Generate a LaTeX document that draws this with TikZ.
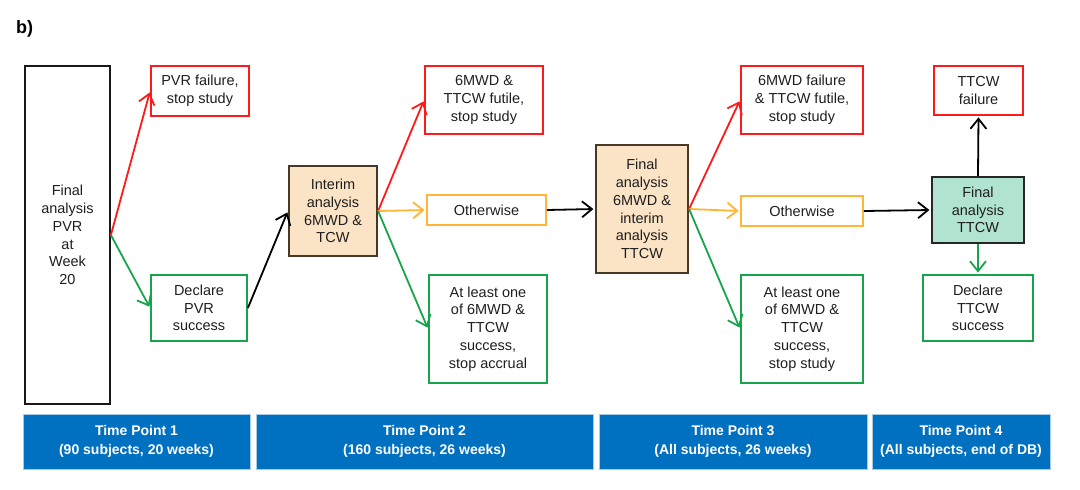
\documentclass[tikz,border=0pt]{standalone}
\usepackage{fontspec}
\setmainfont{Liberation Sans}
\usetikzlibrary{arrows.meta}
\definecolor{cred}{HTML}{FF1A1A}
\definecolor{cgreen}{HTML}{18A44C}
\definecolor{corange}{HTML}{FFB536}
\definecolor{cbeige}{HTML}{FBE4C6}
\definecolor{cbrown}{HTML}{4A3826}
\definecolor{cmint}{HTML}{B0E4D0}
\definecolor{cblue}{HTML}{0070C0}
\definecolor{cblueedge}{HTML}{A9CBEA}
\definecolor{ctext}{HTML}{1E1E1E}
\tikzset{
  box/.style={draw, line width=1.8pt, align=center, inner sep=2pt, text=ctext,
    font=\fontsize{14.5}{17.8}\selectfont},
  redbox/.style={box, draw=cred},
  greenbox/.style={box, draw=cgreen},
  orangebox/.style={box, draw=corange},
  beigebox/.style={box, draw=cbrown, fill=cbeige, line width=2.2pt},
  mintbox/.style={box, draw=black!85, fill=cmint, line width=2.2pt},
  plainbox/.style={box, draw=black!90},
  bar/.style={draw=cblueedge, line width=0.8pt, fill=cblue, text=white, align=center,
    font=\bfseries\fontsize{14}{18.3}\selectfont, minimum height=55pt, inner sep=0pt},
  conn/.style={line width=1.8pt, shorten >=1.5pt,
    -{Straight Barb[length=10pt,width=16pt,line width=1.8pt]}},
}
\begin{document}
\begin{tikzpicture}[x=1pt,y=-1pt]
\useasboundingbox (0,0) rectangle (1080,490);
\node[anchor=base west, font=\bfseries\fontsize{18}{20}\selectfont, inner sep=0pt] (lab) at (16,33) {b)};

% Time point 1
\node[plainbox, minimum width=85pt, minimum height=338pt] (big) at (67.5,235) {Final\\analysis\\PVR\\at\\Week\\20};
\node[redbox, minimum width=98pt, minimum height=50pt] (pvrfail) at (200,91) {PVR failure,\\stop study};
\node[greenbox, minimum width=96pt, minimum height=66pt] (pvrsucc) at (199,308) {Declare\\PVR\\success};

% Time point 2
\node[beigebox, minimum width=88pt, minimum height=90pt] (interim) at (333,211) {Interim\\analysis\\6MWD \&\\TCW};
\node[redbox, minimum width=118pt, minimum height=68pt] (fut1) at (484,100) {6MWD \&\\TTCW futile,\\stop study};
\node[orangebox, minimum width=119pt, minimum height=30pt] (oth1) at (486.5,210) {Otherwise};
\node[greenbox, minimum width=118pt, minimum height=108pt] (succ1) at (488,329) {At least one\\of 6MWD \&\\TTCW\\success,\\stop accrual};

% Time point 3
\node[beigebox, minimum width=92pt, minimum height=128pt] (final3) at (642,209) {Final\\analysis\\6MWD \&\\interim\\analysis\\TTCW};
\node[redbox, minimum width=122pt, minimum height=68pt] (fail3) at (802,100) {6MWD failure\\\& TTCW futile,\\stop study};
\node[orangebox, minimum width=122pt, minimum height=30pt] (oth3) at (802,211) {Otherwise};
\node[greenbox, minimum width=122pt, minimum height=108pt] (succ3) at (802,329) {At least one\\of 6MWD \&\\TTCW\\success,\\stop study};

% Time point 4
\node[mintbox, minimum width=92pt, minimum height=66pt] (ttcw) at (978,210) {Final\\analysis\\TTCW};
\node[redbox, minimum width=89pt, minimum height=49pt] (ttcwfail) at (978.5,90.5) {TTCW\\failure};
\node[greenbox, minimum width=110pt, minimum height=66pt] (ttcwsucc) at (978,308) {Declare\\TTCW\\success};

% connectors
\draw[conn, cred] (big.east) -- (pvrfail.west);
\draw[conn, cgreen] (big.east) -- (pvrsucc.west);
\draw[conn, black] (pvrsucc.east) -- (interim.west);
\draw[conn, cred] (interim.east) -- (fut1.west);
\draw[conn, corange] (interim.east) -- (oth1.west);
\draw[conn, cgreen] (interim.east) -- (succ1.west);
\draw[conn, black] (oth1.east) -- (final3.west);
\draw[conn, cred] (final3.east) -- (fail3.west);
\draw[conn, corange] (final3.east) -- (oth3.west);
\draw[conn, cgreen] (final3.east) -- (succ3.west);
\draw[conn, black] (oth3.east) -- (ttcw.west);
\draw[conn, black] (ttcw.north) -- (ttcwfail.south);
\draw[conn, cgreen] (ttcw.south) -- (ttcwsucc.north);

% time bars
\node[bar, minimum width=227pt] (tp1) at (136.5,441.5) {Time Point 1\\(90 subjects, 20 weeks)};
\node[bar, minimum width=337pt] (tp2) at (424.5,441.5) {Time Point 2\\(160 subjects, 26 weeks)};
\node[bar, minimum width=268pt] (tp3) at (733,441.5) {Time Point 3\\(All subjects, 26 weeks)};
\node[bar, minimum width=178pt] (tp4) at (961,441.5) {Time Point 4\\(All subjects, end of DB)};
\end{tikzpicture}
\end{document}
